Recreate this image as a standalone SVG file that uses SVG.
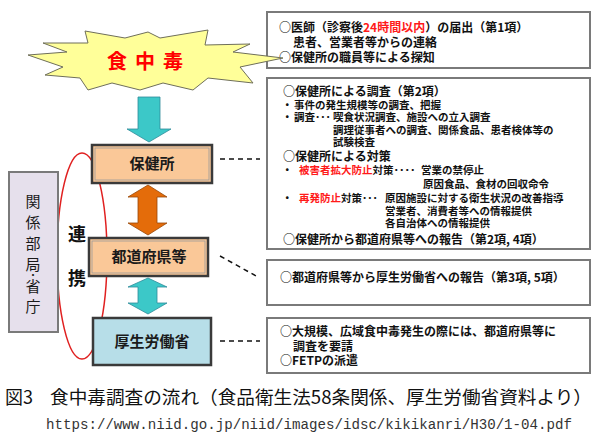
<svg xmlns="http://www.w3.org/2000/svg" width="600" height="446" viewBox="0 0 600 446">
<style>
.jp{font-family:"Noto Sans CJK JP","Noto Sans",sans-serif;}
.box{fill:#fff;stroke:#7a7a7a;stroke-width:2;}
.t12{font-size:12px;font-weight:bold;fill:#111;}
.t11{font-size:10.5px;font-weight:bold;fill:#111;}
.red{fill:#ff1a1a;}
.node{stroke:#3a3a3a;stroke-width:2.5;}
.inner{fill:none;stroke:#9a9a9a;stroke-width:0.8;}
.lbl{font-size:15px;font-weight:bold;fill:#1a1a1a;text-anchor:middle;}
.dash{stroke:#111;stroke-width:1.5;stroke-dasharray:5,4;fill:none;}
</style>
<rect width="600" height="446" fill="#fff"/>

<!-- right boxes -->
<g id="box1">
<rect class="box" x="267" y="12" width="323" height="56"/>
<text class="jp t12" x="279" y="32">○医師（診察後<tspan class="red">24時間以内</tspan>）の届出（第1項）</text>
<text class="jp t12" x="293" y="47">患者、営業者等からの連絡</text>
<text class="jp t12" x="279" y="62">○保健所の職員等による探知</text>
</g>
<g id="box2">
<rect class="box" x="267" y="78" width="323" height="171"/>
<text class="jp t12" x="283" y="96">○保健所による調査（第2項）</text>
<text class="jp t11" x="282" y="109">・</text><text class="jp t11" x="294" y="109">事件の発生規模等の調査、把握</text>
<text class="jp t11" x="282" y="121">・</text><text class="jp t11" x="294" y="121">調査･･･<tspan x="333">喫食状況調査、施設への立入調査</tspan></text>
<text class="jp t11" x="333" y="134">調理従事者への調査、関係食品、患者検体等の</text>
<text class="jp t11" x="333" y="146">試験検査</text>
<text class="jp t12" x="283" y="161">○保健所による対策</text>
<text class="jp t11" x="282" y="174">・</text><text class="jp t11" x="299" y="174"><tspan class="red">被害者拡大防止</tspan>対策<tspan textLength="22" lengthAdjust="spacingAndGlyphs">････</tspan><tspan x="421">営業の禁停止</tspan></text>
<text class="jp t11" x="423" y="188">原因食品、食材の回収命令</text>
<text class="jp t11" x="282" y="202">・</text><text class="jp t11" x="299" y="202"><tspan class="red">再発防止</tspan>対策･･･<tspan x="385">原因施設に対する衛生状況の改善指導</tspan></text>
<text class="jp t11" x="385" y="215">営業者、消費者等への情報提供</text>
<text class="jp t11" x="385" y="227">各自治体への情報提供</text>
<text class="jp t12" x="283" y="244">○保健所から都道府県等への報告（第2項, 4項）</text>
</g>
<g id="box3">
<rect class="box" x="267" y="260" width="323" height="45"/>
<text class="jp t12" x="280" y="282">○都道府県等から厚生労働省への報告（第3項, 5項）</text>
</g>
<g id="box4">
<rect class="box" x="267" y="318" width="323" height="55"/>
<text class="jp t12" x="280" y="336">○大規模、広域食中毒発生の際には、都道府県等に</text>
<text class="jp t12" x="293" y="351">調査を要請</text>
<text class="jp t12" x="280" y="365">○FETPの派遣</text>
</g>

<!-- starburst -->
<g id="shokuchudoku">
<polygon points="28,55 67,52 43,43 88,43 85,31 125,38 148,32 160,38 208,30 205,45 250,44 233,52 283,58 240,67 253,83 208,78 193,90 163,83 140,90 112,83 88,90 80,78 45,75 63,67" fill="#ffff99" stroke="#6f6f5a" stroke-width="1"/>
<text class="jp" x="149" y="69" font-size="20" font-weight="bold" fill="#ff0000" text-anchor="middle" letter-spacing="8">食中毒</text>
</g>

<!-- red ellipse -->
<ellipse cx="82" cy="256" rx="25" ry="103" fill="none" stroke="#e02020" stroke-width="1.5"/>

<!-- connectors -->
<g id="connectors">
<polygon points="138,97 160,97 160,129 171,129 149,142 127,129 138,129" fill="#3cc8c8" stroke="#2e8b9a" stroke-width="0.8"/>
<polygon points="148,185 167,197 157,197 157,223 167,223 148,235 128,223 138,223 138,197 128,197" fill="#e46c0a" stroke="#984807" stroke-width="0.8"/>
<polygon points="148,278 167,287 157,287 157,303 167,303 148,314 128,303 138,303 138,287 128,287" fill="#3cc8c8" stroke="#2e8b9a" stroke-width="0.8"/>
<line class="dash" x1="220" y1="159" x2="260" y2="159"/>
<line class="dash" x1="220" y1="256" x2="258" y2="277"/>
<line class="dash" x1="220" y1="341" x2="260" y2="341"/>
</g>

<!-- left nodes -->
<g id="hokenjo">
<rect class="node" x="92" y="145" width="120" height="38" fill="#fac898"/>
<rect class="inner" x="95" y="148" width="114" height="32"/>
<text class="jp lbl" x="152" y="169">保健所</text>
</g>
<g id="todofuken">
<rect class="node" x="89" y="238" width="119" height="38" fill="#fac898"/>
<rect class="inner" x="92" y="241" width="113" height="32"/>
<text class="jp lbl" x="149" y="262">都道府県等</text>
</g>
<g id="kouseiroudou">
<rect class="node" x="93" y="318" width="118" height="47" fill="#b7dee8" stroke="#595959"/>
<text class="jp lbl" x="152" y="347" font-weight="normal">厚生労働省</text>
</g>
<g id="kankei">
<rect x="9" y="172" width="49" height="160" fill="#e6e0ec" stroke="#7a7a7a" stroke-width="2"/>
<g class="jp" font-size="15" fill="#1a1a1a" text-anchor="middle">
<text x="33" y="207">関</text>
<text x="33" y="228">係</text>
<text x="33" y="249">部</text>
<text x="33" y="270">局</text>
<text x="33" y="279" font-size="10">・</text>
<text x="33" y="292">省</text>
<text x="33" y="312">庁</text>
</g>
</g>
<g id="renkei" class="jp" font-size="18" font-weight="bold" fill="#111" text-anchor="middle">
<text x="77" y="241">連</text>
<text x="77" y="285">携</text>
</g>

<!-- caption -->
<text class="jp" y="404" font-size="18" fill="#111"><tspan x="5">図3</tspan><tspan x="50" textLength="542" lengthAdjust="spacingAndGlyphs">食中毒調査の流れ（食品衛生法58条関係、厚生労働省資料より）</tspan></text>
<text x="46" y="429" font-family="Liberation Mono, monospace" font-size="14" fill="#333" textLength="526" lengthAdjust="spacingAndGlyphs">https://www.niid.go.jp/niid/images/idsc/kikikanri/H30/1-04.pdf</text>
</svg>
